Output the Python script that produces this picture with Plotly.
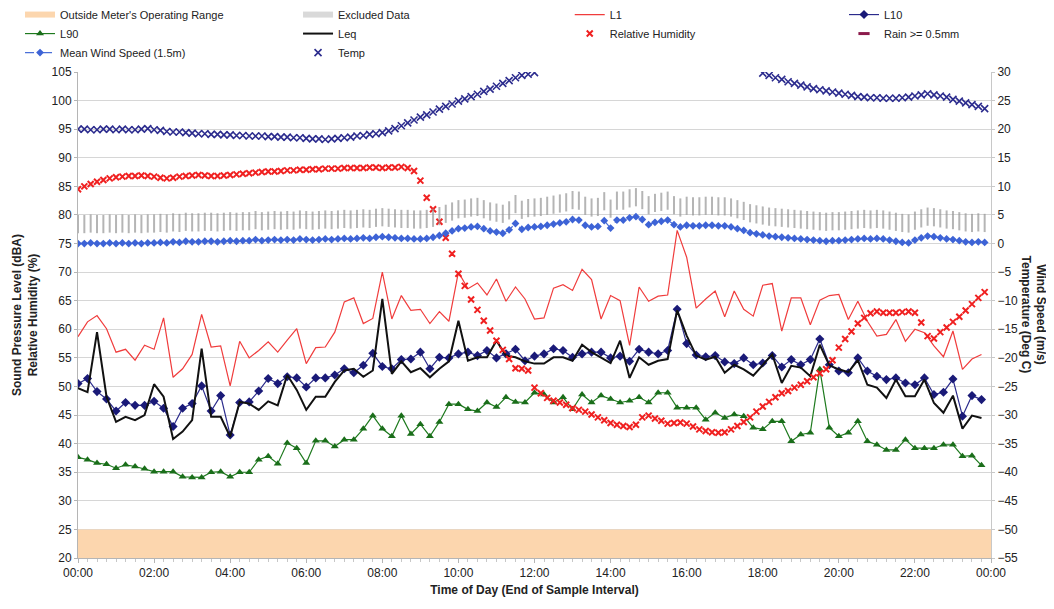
import plotly.graph_objects as go

# ---------------- data ----------------
# 15-minute acoustic statistics (00:00 .. 23:45)
L1 = [58.7, 61.3, 62.4, 60.1, 56.0, 56.5, 54.6, 57.2, 56.5, 62.0, 51.6, 53.1, 55.6, 62.6, 56.9, 57.1,
      50.1, 57.9, 55.0, 56.3, 57.8, 56.0, 58.1, 60.1, 54.0, 56.8, 56.9, 59.5, 64.8, 65.5, 61.0, 61.9,
      70.0, 61.8, 65.9, 63.3, 63.5, 61.0, 63.1, 61.4, 70.0, 67.1, 68.1, 66.0, 68.8, 64.9, 67.4, 65.3,
      61.8, 62.0, 67.2, 67.8, 66.8, 70.5, 68.7, 61.8, 65.9, 65.0, 57.2, 67.4, 64.9, 65.8, 66.0, 77.3,
      72.6, 63.7, 65.3, 66.7, 62.2, 66.7, 63.5, 62.3, 67.7, 68.0, 59.7, 65.5, 65.5, 60.8, 65.1, 65.9,
      66.1, 61.7, 64.9, 61.4, 58.8, 59.1, 61.7, 57.9, 60.0, 59.4, 57.1, 55.2, 59.7, 53.0, 54.8, 55.6]

L10 = [50.5, 51.4, 49.1, 47.8, 45.7, 47.2, 46.7, 46.7, 47.4, 46.2, 43.0, 46.2, 47.0, 50.1, 45.7, 48.4,
       41.5, 47.2, 47.3, 49.2, 51.4, 50.5, 51.7, 51.5, 49.9, 51.5, 51.5, 52.0, 53.1, 52.4, 53.7, 55.8,
       53.5, 53.1, 54.7, 54.8, 56.0, 53.1, 55.1, 55.0, 55.7, 56.0, 55.4, 56.3, 55.0, 55.7, 56.5, 54.5,
       55.3, 55.7, 56.6, 56.3, 55.1, 55.7, 56.0, 56.0, 55.0, 55.3, 54.4, 56.5, 56.0, 55.7, 56.3, 63.5,
       57.5, 55.5, 55.2, 55.4, 54.3, 54.0, 55.0, 53.8, 54.1, 55.4, 53.4, 54.7, 53.8, 54.7, 58.3, 53.8,
       52.7, 52.4, 55.0, 52.7, 51.8, 51.2, 51.5, 50.6, 50.3, 51.5, 48.6, 49.0, 51.3, 44.8, 48.4, 47.7]

L90 = [37.6, 37.2, 36.6, 36.4, 35.7, 36.3, 36.0, 35.6, 35.1, 35.1, 35.1, 34.2, 34.1, 34.1, 35.0, 35.1,
       34.2, 35.0, 35.0, 37.2, 37.8, 36.5, 40.1, 39.2, 36.6, 40.5, 40.5, 39.5, 40.7, 40.7, 42.6, 44.9,
       42.6, 41.3, 44.9, 41.7, 43.4, 41.3, 43.8, 46.9, 46.9, 46.0, 45.7, 47.2, 46.4, 48.1, 47.3, 47.2,
       48.9, 48.6, 47.2, 48.1, 46.0, 48.6, 47.2, 48.4, 47.8, 47.2, 47.5, 48.1, 47.2, 48.9, 48.9, 46.3,
       46.3, 46.3, 44.2, 45.4, 44.5, 45.1, 44.8, 42.8, 42.5, 43.9, 43.9, 40.4, 41.6, 41.9, 53.0, 42.8,
       41.3, 41.9, 43.9, 40.4, 39.8, 38.9, 38.9, 40.7, 39.2, 39.2, 39.2, 39.8, 39.8, 37.8, 37.9, 36.2]

LEQ = [49.7, 49.0, 59.5, 48.2, 43.8, 44.7, 44.1, 45.0, 50.4, 48.2, 40.8, 42.1, 44.1, 56.6, 44.7, 44.7,
       41.2, 47.3, 47.0, 45.9, 47.4, 46.7, 52.0, 49.4, 45.9, 48.2, 48.2, 50.8, 52.8, 53.1, 51.7, 52.8,
       65.3, 52.2, 54.4, 52.5, 53.2, 51.6, 53.1, 54.4, 61.5, 54.5, 55.1, 55.1, 58.0, 55.4, 55.1, 54.4,
       54.0, 54.0, 55.1, 55.1, 54.5, 57.3, 56.0, 55.1, 54.1, 58.0, 51.5, 55.1, 53.8, 54.5, 54.8, 63.3,
       58.9, 55.4, 54.7, 55.2, 52.4, 53.8, 53.0, 51.9, 53.8, 55.6, 50.6, 53.6, 53.3, 51.8, 57.3, 53.7,
       53.0, 52.5, 54.6, 50.3, 49.8, 48.0, 51.2, 48.3, 48.3, 51.2, 47.1, 45.4, 48.4, 42.6, 44.9, 44.5]

# 10-minute weather data (00:00 .. 23:50)
HUMIDITY = [84.5, 85.0, 85.4, 85.8, 86.1, 86.4, 86.6, 86.7, 86.8, 86.8, 86.9, 86.8,
            86.7, 86.5, 86.4, 86.5, 86.7, 86.8, 86.9, 87.0, 86.9, 86.8, 86.8, 86.9,
            87.0, 87.1, 87.2, 87.3, 87.4, 87.5, 87.6, 87.6, 87.7, 87.8, 87.8, 87.9,
            87.9, 88.0, 88.0, 88.1, 88.1, 88.1, 88.2, 88.2, 88.2, 88.2, 88.3, 88.3,
            88.2, 88.3, 88.3, 88.4, 88.2, 87.7, 86.0, 83.0, 81.0, 78.8, 76.0, 73.2,
            69.7, 67.6, 65.2, 63.4, 61.5, 59.8, 58.0, 56.4, 54.8, 53.2, 53.1, 52.8,
            49.8, 48.8, 48.0, 47.5, 47.2, 46.8, 46.2, 45.9, 45.6, 45.1, 44.6, 44.1,
            43.6, 43.3, 43.1, 42.9, 43.3, 44.6, 44.9, 44.4, 44.0, 43.5, 43.6, 43.7,
            43.5, 43.0, 42.5, 42.2, 42.0, 41.9, 42.0, 42.5, 43.1, 43.8, 44.6, 45.6,
            46.5, 47.3, 48.1, 48.8, 49.2, 49.8, 50.3, 50.9, 51.6, 52.3, 53.0, 54.6,
            56.8, 58.3, 59.6, 61.0, 62.0, 62.8, 63.1, 62.9, 62.9, 62.9, 63.0, 63.1,
            62.9, 61.2, 58.8, 58.4, 59.5, 60.3, 61.3, 62.2, 63.3, 64.4, 65.5, 66.5]

TEMP = [20.0, 20.0, 19.9, 19.9, 20.0, 20.0, 19.9, 20.0, 19.9, 19.9, 20.0, 20.1,
        19.9, 19.8, 19.6, 19.5, 19.5, 19.4, 19.3, 19.2, 19.2, 19.1, 19.1, 19.0,
        19.0, 18.9, 18.9, 18.8, 18.8, 18.8, 18.7, 18.7, 18.6, 18.6, 18.5, 18.5,
        18.4, 18.3, 18.3, 18.2, 18.3, 18.4, 18.5, 18.6, 18.8, 18.9, 19.1, 19.2,
        19.4, 19.7, 20.1, 20.6, 21.1, 21.6, 22.1, 22.5, 23.0, 23.5, 24.0, 24.4,
        24.9, 25.3, 25.7, 26.1, 26.6, 27.0, 27.5, 28.0, 28.5, 29.0, 29.4, 29.6,
        29.9, None, None, None, None, None, None, None, None, None, None, None,
        None, None, None, None, None, None, None, None, None, None, None, None,
        None, None, None, None, None, None, None, None, None, None, None, None,
        29.8, 29.4, 29.0, 28.7, 28.3, 28.0, 27.7, 27.4, 27.1, 26.9, 26.7, 26.5,
        26.3, 26.1, 25.9, 25.7, 25.6, 25.5, 25.5, 25.4, 25.4, 25.4, 25.5, 25.6,
        25.8, 26.0, 26.2, 26.0, 25.8, 25.6, 25.2, 24.9, 24.6, 24.3, 24.0, 23.6]

WIND = [0.0, 0.0, 0.1, 0.0, 0.0, 0.1, 0.0, 0.1, 0.0, 0.1, 0.0, 0.1,
        0.1, 0.2, 0.1, 0.3, 0.2, 0.4, 0.3, 0.3, 0.4, 0.4, 0.3, 0.4,
        0.5, 0.4, 0.5, 0.5, 0.7, 0.5, 0.6, 0.7, 0.6, 0.7, 0.6, 0.8,
        0.7, 0.6, 0.7, 0.8, 0.7, 0.8, 0.9, 0.8, 0.9, 1.0, 0.9, 1.1,
        1.2, 1.1, 1.0, 0.9, 0.9, 0.8, 0.8, 0.9, 1.1, 1.4, 1.8, 2.2,
        2.6, 2.7, 2.9, 3.0, 2.6, 2.2, 2.0, 1.8, 2.4, 3.5, 2.5, 2.8,
        2.9, 3.0, 3.2, 3.4, 3.6, 3.8, 4.2, 4.1, 3.2, 2.9, 3.0, 4.0,
        2.7, 4.1, 4.1, 4.5, 4.7, 4.2, 3.3, 3.7, 3.9, 4.1, 3.3, 2.9,
        3.2, 3.1, 3.1, 3.2, 3.2, 3.1, 3.1, 2.9, 2.6, 2.3, 1.9, 1.7,
        1.5, 1.3, 1.2, 1.1, 1.0, 0.9, 0.8, 0.7, 0.6, 0.5, 0.4, 0.5,
        0.5, 0.6, 0.7, 0.8, 0.9, 0.8, 0.9, 0.8, 0.6, 0.4, 0.2, 0.1,
        0.6, 1.0, 1.3, 1.2, 1.0, 0.8, 0.7, 0.5, 0.3, 0.2, 0.3, 0.2]

X_TICK_HOURS = list(range(0, 25, 2))
X_TICK_TEXT = ["00:00", "02:00", "04:00", "06:00", "08:00", "10:00", "12:00",
               "14:00", "16:00", "18:00", "20:00", "22:00", "00:00"]

DAY_START, DAY_END = 0, 24
SPL_MIN, SPL_MAX = 20, 105          # left axis range
METER_FLOOR = 25                    # lower limit of meter operating range
RIGHT_MIN, RIGHT_MAX = -55, 30      # right axis range
LABEL_OFFSET = 3.4                  # data-label offset above wind speed (m/s)

t15 = [i * 0.25 for i in range(len(L1))]
t10 = [k / 6 for k in range(len(WIND))]

FONT = "Liberation Sans Narrow, Liberation Sans, Arial, sans-serif"

fig = go.Figure()

fig.add_trace(go.Scatter(
    x=[DAY_START, DAY_END, DAY_END, DAY_START], y=[SPL_MIN, SPL_MIN, METER_FLOOR, METER_FLOOR],
    fill="toself", fillcolor="#fcd6ae", mode="none", name="Outside Meter's Operating Range",
    hoverinfo="skip", legend="legend"))
fig.add_trace(go.Scatter(
    x=[None], y=[None], fill="toself", fillcolor="#d9d9d9", mode="none", name="Excluded Data",
    legend="legend2"))
fig.add_trace(go.Scatter(
    x=t15, y=L1, mode="lines", name="L1", line=dict(color="#f03c3c", width=1.2),
    legend="legend3"))
fig.add_trace(go.Scatter(
    x=t15, y=L10, mode="lines+markers", name="L10", line=dict(color="#2b2b8c", width=1.2),
    marker=dict(symbol="diamond", size=7, color="#1a1a78"), legend="legend4"))
fig.add_trace(go.Scatter(
    x=t15, y=L90, mode="lines+markers", name="L90", line=dict(color="#1e7a1e", width=1.2),
    marker=dict(symbol="triangle-up", size=7, color="#1a6e1a"), legend="legend"))
fig.add_trace(go.Scatter(
    x=t15, y=LEQ, mode="lines", name="Leq", line=dict(color="#111111", width=2),
    legend="legend2"))
fig.add_trace(go.Scatter(
    x=t10, y=HUMIDITY, mode="markers", name="Relative Humidity",
    marker=dict(symbol="x-thin", size=6, line=dict(color="#f02020", width=2)),
    legend="legend3"))
fig.add_trace(go.Scatter(
    x=[None], y=[None], mode="markers", name="Rain >= 0.5mm", yaxis="y2",
    marker=dict(symbol="line-ew", size=8, line=dict(color="#8b1a4b", width=3)),
    legend="legend4"))
fig.add_trace(go.Scatter(
    x=t10, y=[w + LABEL_OFFSET for w in WIND], mode="markers", yaxis="y2", showlegend=False,
    hoverinfo="skip",
    marker=dict(symbol="line-ns", size=13, line=dict(color="rgba(150,150,150,0.7)", width=2))))
fig.add_trace(go.Scatter(
    x=t10, y=WIND, mode="lines+markers", name="Mean Wind Speed (1.5m)", yaxis="y2",
    line=dict(color="#4a6fd8", width=1.2, dash="dash"),
    marker=dict(symbol="diamond", size=6, color="#3d63d6"), legend="legend"))
fig.add_trace(go.Scatter(
    x=t10, y=TEMP, mode="markers", name="Temp", yaxis="y2",
    marker=dict(symbol="x-thin", size=7, line=dict(color="#2c2c8e", width=1.6)),
    legend="legend2"))

LEG_Y = 1.148


def leg(xpos):
    return dict(orientation="v", x=xpos, xanchor="left", y=LEG_Y, yanchor="top",
                traceorder="normal", itemwidth=30, tracegroupgap=0,
                font=dict(family=FONT, size=11, color="#222222"),
                bgcolor="rgba(0,0,0,0)")


# the page adds an 8px body margin, so the figure is sized to fill the rest of the window
fig.update_layout(
    width=1046, height=601,
    margin=dict(l=70, r=63, t=64, b=51, autoexpand=False),
    paper_bgcolor="white", plot_bgcolor="white",
    font=dict(family=FONT, size=12, color="#222222"),
    legend=leg(-0.0635), legend2=leg(0.2410), legend3=leg(0.5386), legend4=leg(0.8390),
    xaxis=dict(range=[DAY_START, DAY_END], tickvals=X_TICK_HOURS, ticktext=X_TICK_TEXT,
               showgrid=False, zeroline=False, showline=True, linecolor="#b5b5b5",
               ticks="outside", ticklen=4, tickcolor="#b5b5b5",
               minor=dict(dtick=0.25, ticks="outside", ticklen=3, tickcolor="#c8c8c8"),
               tickfont=dict(size=12),
               title=dict(text="<b>Time of Day (End of Sample Interval)</b>",
                          font=dict(size=12), standoff=6)),
    yaxis=dict(range=[SPL_MIN, SPL_MAX], dtick=5, showgrid=True, gridcolor="#d6d6d6",
               zeroline=False, showline=True, linecolor="#b5b5b5",
               ticks="outside", ticklen=3, tickcolor="#b5b5b5", tickfont=dict(size=12),
               title=dict(text="<b>Sound Pressure Level (dBA)<br>Relative Humidity (%)</b>",
                          font=dict(size=12), standoff=11)),
    yaxis2=dict(range=[RIGHT_MIN, RIGHT_MAX], dtick=5, overlaying="y", side="right",
                showgrid=False, zeroline=False, showline=True, linecolor="#c8c8c8",
                ticks="outside", ticklen=3, tickcolor="#c8c8c8", tickfont=dict(size=12)),
)

fig.add_annotation(text="<b>Wind Speed (m/s)<br>Temperature (Deg C)</b>", textangle=90,
                   xref="paper", yref="paper", x=1.0465, y=0.5, xanchor="center",
                   yanchor="middle", showarrow=False, font=dict(family=FONT, size=12))

fig.write_html("out.html")
